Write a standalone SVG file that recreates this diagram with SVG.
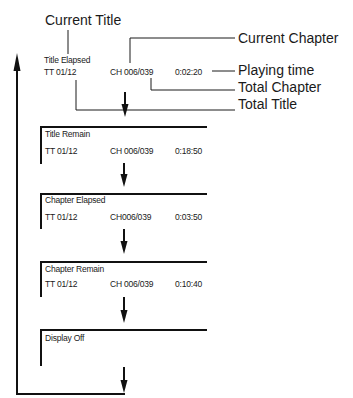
<svg xmlns="http://www.w3.org/2000/svg" width="353" height="398" viewBox="0 0 353 398">
<style>
.lbl{font-family:"Liberation Sans",Arial,sans-serif;font-size:14px;fill:#1a1a1a}
.sm{font-family:"Liberation Sans",Arial,sans-serif;font-size:8.5px;fill:#1a1a1a;letter-spacing:-0.2px}
.thin{stroke:#1a1a1a;stroke-width:1;fill:none}
.thick{stroke:#111;stroke-width:2;fill:none}
.box{stroke:#111;stroke-width:2;fill:none}
.head{fill:#111}
</style>
<g id="labels">
<text class="lbl" x="45" y="25">Current Title</text>
<text class="lbl" x="238" y="43">Current Chapter</text>
<text class="lbl" x="238" y="75">Playing time</text>
<text class="lbl" x="238" y="92">Total Chapter</text>
<text class="lbl" x="238" y="109">Total Title</text>
</g>
<g id="node-title-elapsed">
<text class="sm" x="44" y="63">Title Elapsed</text>
<text class="sm" x="44" y="75">TT 01/12</text>
<text class="sm" x="110" y="75">CH 006/039</text>
<text class="sm" x="175" y="75">0:02:20</text>
</g>
<g id="node-title-remain">
<path class="box" d="M41,164 V127 H207"/>
<text class="sm" x="45" y="137">Title Remain</text>
<text class="sm" x="45" y="154">TT 01/12</text>
<text class="sm" x="110" y="154">CH 006/039</text>
<text class="sm" x="175" y="154">0:18:50</text>
</g>
<g id="node-chapter-elapsed">
<path class="box" d="M41,229 V194 H207"/>
<text class="sm" x="45" y="203">Chapter Elapsed</text>
<text class="sm" x="45" y="220">TT 01/12</text>
<text class="sm" x="110" y="220">CH006/039</text>
<text class="sm" x="175" y="220">0:03:50</text>
</g>
<g id="node-chapter-remain">
<path class="box" d="M41,297 V262 H207"/>
<text class="sm" x="45" y="272">Chapter Remain</text>
<text class="sm" x="45" y="287">TT 01/12</text>
<text class="sm" x="110" y="287">CH 006/039</text>
<text class="sm" x="175" y="287">0:10:40</text>
</g>
<g id="node-display-off">
<path class="box" d="M41,366 V330 H207"/>
<text class="sm" x="45" y="341">Display Off</text>
</g>
<g id="connectors">
<path class="thin" d="M68,30 V54"/>
<path class="thin" d="M130,63 V38 H235"/>
<path class="thin" d="M212,71 H235"/>
<path class="thin" d="M151,78 V90 H235"/>
<path class="thin" d="M76,80 V110 H235"/>
<path class="thick" d="M125,92 V106"/>
<path class="head" d="M121.5,104 L128.5,104 L125,117 Z"/>
<path class="thick" d="M124,163 V176"/>
<path class="head" d="M120.5,174 L127.5,174 L124,187 Z"/>
<path class="thick" d="M124,229 V243"/>
<path class="head" d="M120.5,241 L127.5,241 L124,254 Z"/>
<path class="thick" d="M124,297 V312"/>
<path class="head" d="M120.5,310 L127.5,310 L124,323 Z"/>
<path class="thick" d="M124,367 V382"/>
<path class="head" d="M120.5,380 L127.5,380 L124,393 Z"/>
<path class="thick" d="M125,394 H17 V68"/>
<path class="head" d="M17,53 L20.5,71 L13.5,71 Z"/>
</g>
</svg>
